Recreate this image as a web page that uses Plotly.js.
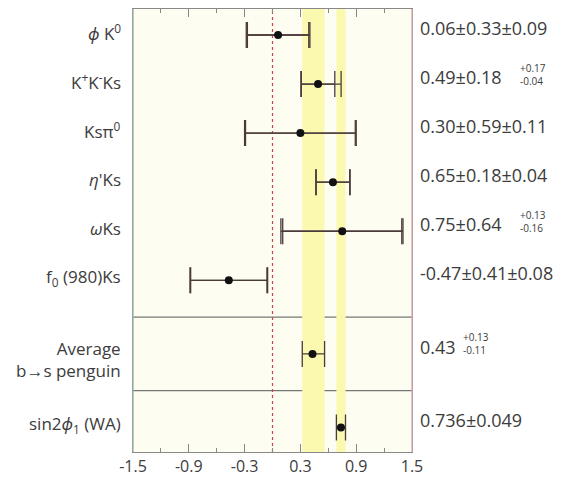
<!DOCTYPE html>
<html>
<head>
<meta charset="utf-8">
<script src="https://cdn.plot.ly/plotly-3.0.1.min.js"></script>
<style>html,body{margin:0;padding:0;background:#fff;}#chart{width:576px;height:478px;}</style>
</head>
<body>
<div id="chart"></div>
<script>
// ---- data ----
const modes = ["<i>ϕ</i> K<sup>0</sup>", "K<sup>+</sup>K<sup>-</sup>Ks", "Ksπ<sup>0</sup>", "<i>η</i>'Ks", "<i>ω</i>Ks", "f<sub>0</sub> (980)Ks"];
const modePos = [8.5, 7.5, 6.5, 5.5, 4.5, 3.5];
const modeValue = [0.06, 0.49, 0.30, 0.65, 0.75, -0.47];
const modeStat = [0.33, 0.18, 0.59, 0.18, 0.64, 0.41];
const modeSystPlus = [0.09, 0.17, 0.11, 0.04, 0.13, 0.08];
const modeSystMinus = [0.09, 0.04, 0.11, 0.04, 0.16, 0.08];
const modeText = ["0.06±0.33±0.09", "0.49±0.18", "0.30±0.59±0.11", "0.65±0.18±0.04", "0.75±0.64", "-0.47±0.41±0.08"];
const modeAsym = [false, true, false, false, true, false];

const avgLabel = "Average<br>b→s penguin";
const avgPos = 2.0;
const avgValue = 0.43;
const avgPlus = 0.13;
const avgMinus = 0.11;

const waLabel = "sin2<i>ϕ</i><sub>1</sub> (WA)";
const waPos = 0.5;
const waValue = 0.736;
const waErr = 0.049;

const separators = [2.75, 1.25];
const tickVals = [-1.5, -0.9, -0.3, 0.3, 0.9, 1.5];

// ---- derived ----
const totPlus = modeStat.map((s, i) => Math.sqrt(s * s + modeSystPlus[i] ** 2));
const totMinus = modeStat.map((s, i) => Math.sqrt(s * s + modeSystMinus[i] ** 2));

const barColor = "#4a3a3a";
const fontFam = "Open Sans, Noto Sans, sans-serif";
const txtColor = "#3c3c3c";

const traces = [
  { // total errors
    x: modeValue, y: modePos, type: "scatter", mode: "markers",
    marker: { size: 1, color: "rgba(0,0,0,0)" },
    error_x: { type: "data", symmetric: false, array: totPlus, arrayminus: totMinus, color: barColor, thickness: 1.3, width: 13 },
    hoverinfo: "skip"
  },
  { // stat errors + points
    x: modeValue.concat([avgValue, waValue]),
    y: modePos.concat([avgPos, waPos]),
    type: "scatter", mode: "markers",
    marker: { size: 8, color: "#111" },
    error_x: { type: "data", symmetric: false,
      array: modeStat.concat([avgPlus, waErr]),
      arrayminus: modeStat.concat([avgMinus, waErr]),
      color: barColor, thickness: 1.3, width: 13 }
  }
];

const shapes = [];
separators.forEach(s => shapes.push({ type: "line", xref: "paper", x0: 0, x1: 1, yref: "y", y0: s, y1: s, line: { color: "#777", width: 1.2 }, layer: "below" }));
shapes.push({ type: "rect", xref: "x", yref: "paper", x0: avgValue - avgMinus, x1: avgValue + avgPlus, y0: 0, y1: 1, fillcolor: "#fbf8b0", line: { width: 0 }, layer: "below" });
shapes.push({ type: "rect", xref: "x", yref: "paper", x0: waValue - waErr, x1: waValue + waErr, y0: 0, y1: 1, fillcolor: "#fbf8b0", line: { width: 0 }, layer: "below" });
shapes.push({ type: "line", xref: "x", yref: "paper", x0: 0, x1: 0, y0: 0, y1: 1, line: { color: "#d04050", width: 1.2, dash: "dot" }, layer: "below" });
shapes.push({ type: "line", xref: "paper", yref: "paper", x0: 1, x1: 1, y0: 0, y1: 1, line: { color: "#d8a0b0", width: 1.2 } });
shapes.push({ type: "line", xref: "paper", yref: "paper", x0: 0, x1: 0, y0: 0, y1: 1, line: { color: "#90b0a0", width: 1.2 } });

const ann = [];
const labFont = { family: fontFam, size: 17, color: txtColor };
const valFont = { family: fontFam, size: 18, color: txtColor };
const smallFont = { family: fontFam, size: 10, color: txtColor };
modes.forEach((m, i) => {
  ann.push({ xref: "paper", x: 0, xshift: -10, xanchor: "right", yref: "y", y: modePos[i], yshift: 3, text: m, showarrow: false, font: labFont });
  ann.push({ xref: "paper", x: 1, xshift: 6, xanchor: "left", yref: "y", y: modePos[i], yshift: 7, text: modeText[i], showarrow: false, font: valFont });
  if (modeAsym[i]) {
    ann.push({ xref: "paper", x: 1, xshift: 106, xanchor: "left", yref: "y", y: modePos[i], yshift: 10,
      text: "+" + modeSystPlus[i].toFixed(2) + "<br>-" + modeSystMinus[i].toFixed(2), align: "left", showarrow: false,
      font: smallFont });
  }
});
ann.push({ xref: "paper", x: 0, xshift: -10, xanchor: "right", yref: "y", y: avgPos, yshift: -6, text: avgLabel, align: "right", showarrow: false, font: labFont });
ann.push({ xref: "paper", x: 1, xshift: 6, xanchor: "left", yref: "y", y: avgPos, yshift: 7, text: avgValue.toFixed(2), showarrow: false, font: valFont });
ann.push({ xref: "paper", x: 1, xshift: 49, xanchor: "left", yref: "y", y: avgPos, yshift: 10,
  text: "+" + avgPlus.toFixed(2) + "<br>-" + avgMinus.toFixed(2), align: "left", showarrow: false, font: smallFont });
ann.push({ xref: "paper", x: 0, xshift: -10, xanchor: "right", yref: "y", y: waPos, yshift: 3, text: waLabel, showarrow: false, font: labFont });
ann.push({ xref: "paper", x: 1, xshift: 6, xanchor: "left", yref: "y", y: waPos, yshift: 7, text: waValue.toFixed(3) + "±" + waErr.toFixed(3), showarrow: false, font: valFont });

const layout = {
  width: 576, height: 478,
  margin: { l: 133, r: 164, t: 9, b: 26 },
  paper_bgcolor: "#ffffff",
  plot_bgcolor: "#fdfdf1",
  showlegend: false,
  font: { family: fontFam, color: txtColor },
  xaxis: {
    range: [-1.5, 1.5], tickvals: tickVals, ticktext: tickVals.map(v => v.toFixed(1)),
    ticks: "inside", ticklen: 8, tickcolor: "#888", mirror: "ticks",
    minor: { dtick: 0.3, tick0: -1.5, ticks: "inside", ticklen: 4, tickcolor: "#888", showgrid: false },
    showline: true, linecolor: "#888", linewidth: 1.2,
    showgrid: false, zeroline: false,
    tickfont: { family: fontFam, size: 16, color: txtColor }
  },
  yaxis: {
    range: [0, 9.03], showticklabels: false, ticks: "", showgrid: false, zeroline: false,
    showline: true, mirror: true, linecolor: "#999", linewidth: 1.2, fixedrange: true
  },
  shapes: shapes,
  annotations: ann
};

Plotly.newPlot("chart", traces, layout, { staticPlot: true, displayModeBar: false });
</script>
</body>
</html>
